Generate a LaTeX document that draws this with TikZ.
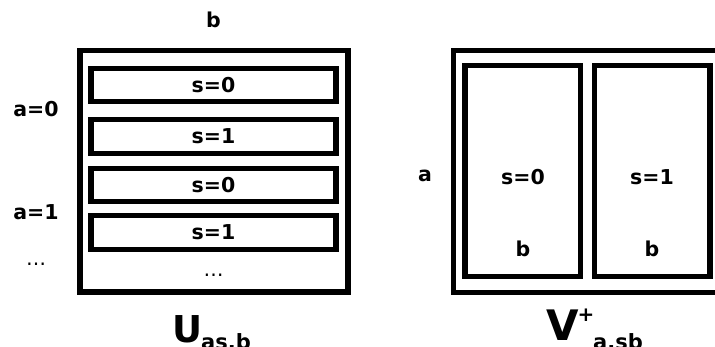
\documentclass[tikz,border=0pt]{standalone}
\usepackage{fontspec}
\setmainfont{DejaVu Sans}
\begin{document}
\begin{tikzpicture}[x=1pt,y=-1pt,
  frame/.style={draw=black,line width=5.5pt},
  lbl/.style={inner sep=0pt,font=\fontsize{20.5}{24}\selectfont\bfseries},
  dots/.style={inner sep=0pt,font=\fontsize{20}{24}\selectfont},
  sub/.style={inner sep=0pt,font=\fontsize{21}{24}\selectfont\bfseries},
  sup/.style={inner sep=0pt,font=\fontsize{20}{24}\selectfont\bfseries}]
\useasboundingbox (0,0) rectangle (715,347);
\clip (0,0) rectangle (715,347);

% left matrix U: rows indexed by (a,s), columns by b
\draw[frame] (80,50.5) rectangle (348,292);
\draw[frame] (91,68.5) rectangle (336,101.5);
\draw[frame] (91,119.5) rectangle (336,153.5);
\draw[frame] (91,168.5) rectangle (336,201.5);
\draw[frame] (91,215.5) rectangle (336,249.5);
\node[lbl] (r1) at (213.5,85) {s=0};
\node[lbl] (r2) at (213.5,136.5) {s=1};
\node[lbl] (r3) at (213.5,185) {s=0};
\node[lbl] (r4) at (213.5,232.5) {s=1};
\node[dots] (udots) at (213.5,275) {…};
\node[lbl] (ub) at (213.5,20) {b};
\node[lbl] (a0) at (36,109) {a=0};
\node[lbl] (a1) at (36,212) {a=1};
\node[dots] (adots) at (36,264) {…};
\node[inner sep=0pt,font=\fontsize{37}{42}\selectfont\bfseries,anchor=base west] (U) at (172,343) {U};
\node[sub,anchor=base west] (Usub) at (201,349) {as,b};

% right matrix V+: rows indexed by a, columns by (s,b)
\draw[frame] (453.5,50.5) rectangle (760,292.5);
\draw[frame] (465,65.5) rectangle (580.5,276.5);
\draw[frame] (594.5,65.5) rectangle (710,276.5);
\node[lbl] (va) at (425,176) {a};
\node[lbl] (c0) at (523,177) {s=0};
\node[lbl] (c1) at (652,177) {s=1};
\node[lbl] (b0) at (523,249) {b};
\node[lbl] (b1) at (652,249) {b};
\node[inner sep=0pt,font=\fontsize{42}{46}\selectfont\bfseries,anchor=base west] (V) at (546,341) {V};
\node[sup] (Vsup) at (586,315) {+};
\node[sub,anchor=base west] (Vsub) at (593,349) {a,sb};
\end{tikzpicture}
\end{document}
